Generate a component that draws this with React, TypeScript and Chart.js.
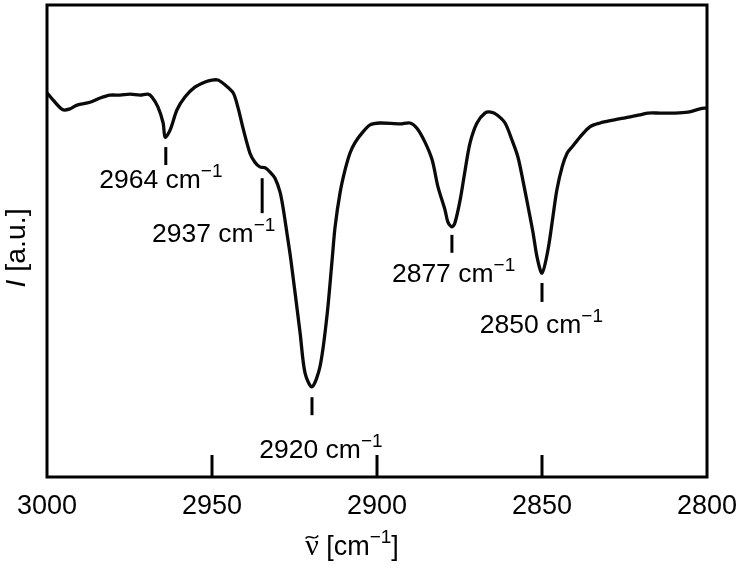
import React, { useEffect, useRef } from "react";
import { Chart, registerables } from "chart.js";
Chart.register(...registerables);

// Spectrum (wavenumber in cm^-1, intensity in a.u.)
const wavenumbers = [
  3000, 2998.2, 2995.2, 2993.0, 2990.9, 2987.0, 2983.9, 2980.9, 2977.9, 2974.8,
  2971.8, 2969.4, 2968.2, 2966.4, 2964.8, 2964.2, 2962.7, 2960.6, 2958.2, 2955.2,
  2952.1, 2950.0, 2948.2, 2946.1, 2943.6, 2942.1, 2940.6, 2938.5, 2937.0, 2935.5,
  2933.9, 2932.4, 2930.9, 2929.4, 2928.5, 2927.3, 2926.1, 2923.3, 2921.8, 2919.7,
  2917.3, 2915.2, 2913.6, 2912.7, 2911.2, 2909.7, 2908.2, 2906.7, 2904.5, 2902.1,
  2899.1, 2893.0, 2890.0, 2887.9, 2885.5, 2883.3, 2881.5, 2879.4, 2878.5, 2877.3,
  2876.4, 2874.8, 2873.3, 2871.8, 2869.7, 2867.3, 2865.5, 2863.6, 2861.2, 2859.1,
  2857.3, 2855.8, 2854.2, 2852.7, 2851.5, 2850.0, 2848.2, 2846.7, 2845.5, 2843.9,
  2842.4, 2840.9, 2838.5, 2835.5, 2832.4, 2828.5, 2824.8, 2820.3, 2817.9, 2814.2,
  2810.3, 2805.8, 2802.1, 2800.0,
];
const intensity = [
  81.4, 79.9, 77.8, 78.0, 78.8, 79.4, 80.3, 80.9, 80.9, 81.1,
  80.9, 81.1, 80.5, 78.4, 75.0, 72.0, 73.5, 77.8, 80.5, 82.6,
  83.7, 84.1, 84.1, 83.1, 81.4, 78.2, 73.9, 68.6, 66.7, 65.7,
  65.5, 64.6, 63.3, 60.4, 57.2, 51.7, 46.0, 30.5, 22.0, 19.1,
  23.3, 33.9, 46.0, 53.0, 60.2, 65.0, 68.6, 70.8, 72.9, 74.6,
  75.0, 74.8, 75.0, 73.9, 71.0, 67.2, 61.4, 56.6, 54.0, 53.0,
  53.8, 58.7, 65.0, 70.8, 75.0, 77.1, 77.3, 76.7, 75.0, 71.4,
  67.8, 62.9, 57.2, 51.7, 46.6, 43.2, 48.1, 55.1, 60.8, 65.7,
  68.6, 69.9, 72.0, 74.2, 75.0, 75.6, 76.1, 76.7, 77.1, 77.1,
  77.1, 77.3, 78.0, 78.2,
];
const xTicks = [3000, 2950, 2900, 2850, 2800];

// Peak annotations
const peakLabels = ["2964", "2937", "2920", "2877", "2850"];
const peakMarkX = [2964.0, 2934.8, 2919.7, 2877.3, 2850.0];
const peakMarkTop = [69.9, 63.3, 16.9, 51.3, 41.1];
const peakMarkBottom = [66.1, 55.9, 13.1, 47.5, 37.1];
const peakTextX = [2965.5, 2949.5, 2917.0, 2876.8, 2850.2];
const peakTextY = [61.2, 49.8, 4.0, 41.3, 30.5];

const SANS = "'Liberation Sans', Arial, sans-serif";
const SERIF = "'Liberation Serif', 'Times New Roman', serif";
const FS = 26.5;
const TICK_FS = 27;

function drawWithSup(ctx: CanvasRenderingContext2D, main: string, sup: string, tail: string, cx: number, base: number, size: number, prefixW = 0) {
  const supSize = Math.round(size * 0.7);
  ctx.font = `${size}px ${SANS}`;
  const wMain = ctx.measureText(main).width;
  const wTail = ctx.measureText(tail).width;
  ctx.font = `${supSize}px ${SANS}`;
  const wSup = ctx.measureText(sup).width;
  const total = prefixW + wMain + wSup + wTail;
  let x = cx - total / 2;
  const start = x;
  x += prefixW;
  ctx.textAlign = "left";
  ctx.textBaseline = "alphabetic";
  ctx.font = `${size}px ${SANS}`;
  ctx.fillText(main, x, base);
  x += wMain;
  ctx.font = `${supSize}px ${SANS}`;
  ctx.fillText(sup, x, base - size * 0.43);
  x += wSup;
  ctx.font = `${size}px ${SANS}`;
  ctx.fillText(tail, x, base);
  return start;
}

const decorPlugin = {
  id: "decor",
  afterDraw(chart: any) {
    const { ctx, chartArea: a, scales } = chart;
    const xs = scales.x;
    const ys = scales.y;
    ctx.save();
    ctx.strokeStyle = "#000";
    ctx.fillStyle = "#000";
    // frame
    ctx.lineWidth = 3;
    ctx.strokeRect(a.left, a.top, a.right - a.left, a.bottom - a.top);
    // inward ticks
    xTicks.forEach((v) => {
      if (v === 3000 || v === 2800) return;
      const px = xs.getPixelForValue(v);
      ctx.beginPath();
      ctx.moveTo(px, a.bottom);
      ctx.lineTo(px, a.bottom - 22);
      ctx.stroke();
    });
    // peak marks and labels
    peakLabels.forEach((lab, i) => {
      const px = xs.getPixelForValue(peakMarkX[i]);
      ctx.lineWidth = 3;
      ctx.beginPath();
      ctx.moveTo(px, ys.getPixelForValue(peakMarkTop[i]));
      ctx.lineTo(px, ys.getPixelForValue(peakMarkBottom[i]));
      ctx.stroke();
      drawWithSup(ctx, lab + " cm", "\u22121", "", xs.getPixelForValue(peakTextX[i]), ys.getPixelForValue(peakTextY[i]), FS);
    });
    // x title: ν̃ [cm−1]
    const tfs = 27;
    ctx.font = `${tfs + 3}px ${SERIF}`;
    const nuW = ctx.measureText("\u03bd").width;
    const cx = 352;
    const base = 555;
    const start = drawWithSup(ctx, " [cm", "\u22121", "]", cx, base, tfs, nuW);
    ctx.font = `${tfs + 3}px ${SERIF}`;
    ctx.fillText("\u03bd", start, base);
    // tilde
    ctx.lineWidth = 1.6;
    ctx.beginPath();
    const tx = start + 0.5, tw = nuW - 1, ty = base - 18;
    ctx.moveTo(tx, ty + 1.5);
    ctx.bezierCurveTo(tx + tw * 0.3, ty - 4, tx + tw * 0.65, ty + 5, tx + tw, ty - 1.5);
    ctx.stroke();
    // y title: I [a.u.]
    const yfs = 28.5;
    ctx.save();
    ctx.translate(17, 248);
    ctx.rotate(-Math.PI / 2);
    ctx.font = `italic ${yfs}px ${SANS}`;
    const wI = ctx.measureText("I").width;
    ctx.font = `${yfs}px ${SANS}`;
    const wR = ctx.measureText(" [a.u.]").width;
    const sx = -(wI + wR) / 2;
    ctx.textBaseline = "middle";
    ctx.textAlign = "left";
    ctx.font = `italic ${yfs}px ${SANS}`;
    ctx.fillText("I", sx, 0);
    ctx.font = `${yfs}px ${SANS}`;
    ctx.fillText(" [a.u.]", sx + wI, 0);
    ctx.restore();
    ctx.restore();
  },
};

export default function App() {
  const ref = useRef<HTMLCanvasElement | null>(null);
  useEffect(() => {
    if (!ref.current) return;
    const chart = new Chart(ref.current, {
      type: "line",
      data: {
        datasets: [
          {
            data: wavenumbers.map((w, i) => ({ x: w, y: intensity[i] })),
            borderColor: "#0a0a0a",
            borderWidth: 3.3,
            pointRadius: 0,
            tension: 0.3,
            fill: false,
          },
        ],
      },
      options: {
        animation: false,
        responsive: false,
        maintainAspectRatio: false,
        layout: { padding: { left: 47, right: 34, top: 5, bottom: 0 } },
        plugins: { legend: { display: false }, tooltip: { enabled: false }, title: { display: false } },
        scales: {
          x: {
            type: "linear",
            reverse: true,
            min: 2800,
            max: 3000,
            afterFit: (s: any) => {
              s.height = 92;
              s.paddingLeft = 0;
              s.paddingRight = 0;
            },
            afterBuildTicks: (s: any) => {
              s.ticks = xTicks.map((v) => ({ value: v }));
            },
            ticks: {
              color: "#000",
              font: { family: SANS, size: TICK_FS },
              padding: 13,
              maxRotation: 0,
              autoSkip: false,
              callback: (v: any) => String(v),
            },
            grid: { display: false, drawTicks: false },
            border: { display: false },
          },
          y: {
            display: false,
            min: 0,
            max: 100,
          },
        },
      },
      plugins: [decorPlugin],
    });
    return () => chart.destroy();
  }, []);
  return (
    <div style={{ position: "absolute", left: 0, top: 0, width: 741, height: 569, background: "#fff" }}>
      <canvas ref={ref} width={741} height={569} />
    </div>
  );
}
